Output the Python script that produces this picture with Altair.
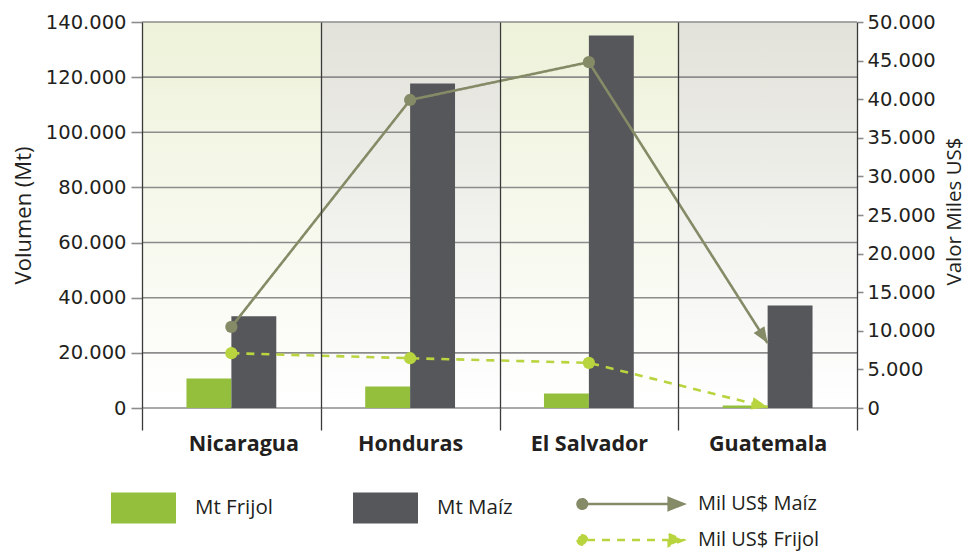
import math
import altair as alt
import pandas as pd

# ---------------- data ----------------
countries = ["Nicaragua", "Honduras", "El Salvador", "Guatemala"]
mt_frijol = [10700, 7800, 5300, 900]
mt_maiz = [33300, 117700, 135100, 37200]
usd_maiz = [10500, 39900, 44800, 8400]
usd_frijol = [7100, 6450, 5850, 100]
left_ticks = [0, 20000, 40000, 60000, 80000, 100000, 120000, 140000]
right_ticks = [0, 5000, 10000, 15000, 20000, 25000, 30000, 35000, 40000, 45000, 50000]
bar_series = ["Mt Frijol", "Mt Maíz"]
line_series = ["Mil US$ Maíz", "Mil US$ Frijol"]
shades = ["g", "k", "g", "k"]

# ---------------- geometry / style ----------------
W, H = 715, 386
LEFT_MAX, RIGHT_MAX = 140000, 50000
C_FRIJOL_BAR = "#93bf3d"
C_MAIZ_BAR = "#55575a"
C_MAIZ_LINE = "#868b67"
C_FRIJOL_LINE = "#b8d43f"
GRID = "#8c8c8c"
VGRID = "#3a3a3a"
TXT = "#231f20"
FONT = "Open Sans"
NUMFONT = "DejaVu Sans"
fmt = "replace(format(datum.value, ','), ',', '.')"

bars_df = pd.DataFrame(
    [{"country": c, "crop": bar_series[0], "value": v} for c, v in zip(countries, mt_frijol)]
    + [{"country": c, "crop": bar_series[1], "value": v} for c, v in zip(countries, mt_maiz)]
)
bg_df = pd.DataFrame({"country": countries, "shade": shades})
grid_df = pd.DataFrame({"v": left_ticks})

rows = []
for series, vals in zip(line_series, [usd_maiz, usd_frijol]):
    dx = W / len(countries)
    dy = (vals[-2] - vals[-1]) / RIGHT_MAX * H
    ang = math.degrees(math.atan2(dy, dx)) % 360
    for i, (c, v) in enumerate(zip(countries, vals)):
        rows.append({"country": c, "series": series, "value": v, "idx": i,
                     "last": i == len(vals) - 1, "angle": ang})
lines_df = pd.DataFrame(rows)

x_enc = alt.X(
    "country:N", sort=countries,
    scale=alt.Scale(domain=countries, paddingInner=0, paddingOuter=0),
    axis=alt.Axis(
        title=None, tickBand="extent", grid=True, gridColor=VGRID, gridWidth=1.3,
        ticks=True, tickSize=22, tickColor=VGRID, tickWidth=1.3, domain=False,
        labelFont=FONT, labelFontWeight="bold", labelFontSize=21.5, labelColor=TXT,
        labelPadding=3, labelAngle=0, zindex=1,
        labelOffset={"condition": {"test": "datum.value === 'Nicaragua'", "value": 12}, "value": 0},
    ),
)

y_left_scale = alt.Scale(domain=[0, LEFT_MAX], nice=False, zero=True)
y_right_scale = alt.Scale(domain=[0, RIGHT_MAX], nice=False, zero=True)

left_axis = alt.Axis(
    title="Volumen (Mt)", values=left_ticks, labelExpr=fmt, tickSize=11,
    tickColor=GRID, tickWidth=1.6, domain=False, grid=False,
    labelFont=NUMFONT, labelFontSize=19.5, labelColor=TXT, labelPadding=5,
    titleFont=FONT, titleFontSize=22, titleFontWeight="normal", titleColor=TXT,
    titleAngle=270, titleX=-119, titleY=H / 2, titleAlign="center", titleBaseline="middle",
)
right_axis = alt.Axis(
    orient="right", title="Valor Miles US$", values=right_ticks, labelExpr=fmt,
    tickSize=6, tickColor=GRID, tickWidth=1.6, domain=False, grid=False,
    labelFont=NUMFONT, labelFontSize=19.5, labelColor=TXT, labelPadding=4,
    titleFont=FONT, titleFontSize=20.5, titleFontWeight="normal", titleColor=TXT,
    titleAngle=270, titleX=97, titleY=189, titleAlign="center", titleBaseline="middle",
)

def grad(top):
    return alt.Gradient(
        gradient="linear", x1=0, x2=0, y1=0, y2=1,
        stops=[alt.GradientStop(color=top, offset=0),
               alt.GradientStop(color="#ffffff", offset=1)],
    )

bg_green = (
    alt.Chart(bg_df).transform_filter(alt.datum.shade == "g")
    .mark_rect(fill=grad("#edf2d9"))
    .encode(x=x_enc, y=alt.datum(LEFT_MAX), y2=alt.datum(0))
)
bg_gray = (
    alt.Chart(bg_df).transform_filter(alt.datum.shade == "k")
    .mark_rect(fill=grad("#e2e2da"))
    .encode(x=x_enc, y=alt.datum(LEFT_MAX), y2=alt.datum(0))
)
grid_rules = alt.Chart(grid_df).mark_rule(color=GRID, strokeWidth=1.6).encode(
    y=alt.Y("v:Q", scale=y_left_scale)
)

bar_rect_path = "M-1,-0.477 L1,-0.477 L1,0.477 L-1,0.477 Z"
bars = alt.Chart(bars_df).mark_bar(opacity=1).encode(
    x=x_enc,
    xOffset=alt.XOffset("crop:N", sort=bar_series,
                        scale=alt.Scale(domain=bar_series, paddingInner=0, paddingOuter=0.99)),
    y=alt.Y("value:Q", scale=y_left_scale, axis=left_axis),
    fill=alt.Fill(
        "crop:N", scale=alt.Scale(domain=bar_series, range=[C_FRIJOL_BAR, C_MAIZ_BAR]),
        legend=alt.Legend(
            title=None, orient="none", legendX=-31, legendY=466, direction="horizontal",
            symbolType=bar_rect_path, symbolSize=65 * 65, symbolStrokeWidth=0,
            clipHeight=40, labelOffset=19, columnPadding=80, padding=0,
            labelFont=FONT, labelFontSize=20.5, labelColor=TXT, symbolOpacity=1,
        ),
    ),
)

line_symbol = ("M-1,0 A0.09,0.09 0 1,0 -0.82,0 A0.09,0.09 0 1,0 -1,0 Z "
               "M-0.82,0 L0.72,0 M0.72,-0.11 L1,0 L0.72,0.11 Z")
legend_props = dict(
    title=None, orient="none", legendX=434, legendY=464, direction="vertical",
    symbolType=line_symbol, symbolSize=106 * 106, symbolStrokeWidth=2.5,
    clipHeight=36, labelOffset=13, rowPadding=0, padding=0,
    labelFont=FONT, labelFontSize=20, labelColor=TXT, symbolOpacity=1,
)
color_enc = alt.Color(
    "series:N", scale=alt.Scale(domain=line_series, range=[C_MAIZ_LINE, C_FRIJOL_LINE]),
    legend=alt.Legend(**legend_props),
)
y_right = alt.Y("value:Q", scale=y_right_scale, axis=right_axis)

lines = alt.Chart(lines_df).mark_line(strokeWidth=2.6).encode(
    x=x_enc, y=y_right, color=color_enc,
    strokeDash=alt.StrokeDash(
        "series:N", scale=alt.Scale(domain=line_series, range=[[1, 0], [8, 7]]),
        legend=alt.Legend(**legend_props),
    ),
    order="idx:Q",
)
circles = (
    alt.Chart(lines_df).transform_filter("!datum.last")
    .mark_point(filled=True, shape="circle", size=150, opacity=1)
    .encode(x=x_enc, y=y_right, color=color_enc)
)
arrow_path = "M0,0 L-2,-0.8 L-2,0.8 Z"
arrows = (
    alt.Chart(lines_df).transform_filter("datum.last")
    .mark_point(filled=True, shape=arrow_path, size=256, opacity=1)
    .encode(x=x_enc, y=y_right, color=color_enc, angle=alt.Angle("angle:Q", scale=None))
)

left_layer = alt.layer(bg_green, bg_gray, grid_rules, bars)
right_layer = alt.layer(lines, circles, arrows)

chart = (
    alt.layer(left_layer, right_layer)
    .resolve_scale(y="independent")
    .properties(
        width=W, height=H,
        autosize=alt.AutoSizeParams(type="none"),
        padding={"left": 134, "top": 14, "right": 110, "bottom": 143},
        background="white",
    )
    .configure_view(strokeWidth=0)
)

chart.save("out.html", embed_options={"renderer": "svg", "actions": False})
